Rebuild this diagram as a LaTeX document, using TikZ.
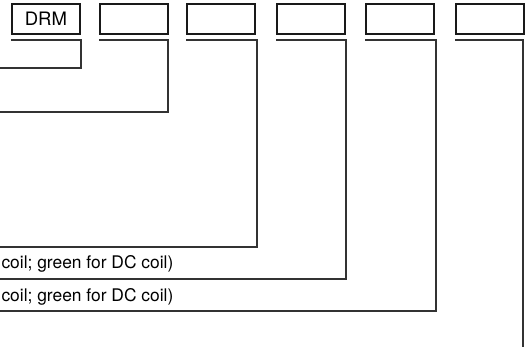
\documentclass[tikz,border=0pt]{standalone}
\usepackage{fontspec}
\setmainfont{TeX Gyre Heros}
\begin{document}
\begin{tikzpicture}[x=1pt,y=-1pt,
  codebox/.style={draw=black!90, line width=1.9pt, minimum width=68pt, minimum height=30pt, inner sep=0pt, font=\fontsize{18.5}{21}\selectfont, anchor=north west},
  bracket/.style={draw=black!80, line width=1.3pt},
  note/.style={font=\fontsize{17.4}{20}\selectfont, inner sep=0pt, anchor=base east}]
\useasboundingbox (0,0) rectangle (525,346);
\clip (0,0) rectangle (525,346);
\node[codebox] (b1) at (11,3) {\raisebox{-1pt}{DRM}};
\node[codebox] (b2) at (99,3) {};
\node[codebox] (b3) at (186,3) {};
\node[codebox] (b4) at (276,3) {};
\node[codebox] (b5) at (365,3) {};
\node[codebox] (b6) at (455,3) {};
\coordinate (e1) at (0,68);
\coordinate (e2) at (0,112);
\coordinate (e3) at (0,247);
\coordinate (e4) at (0,279);
\coordinate (e5) at (0,311);
\coordinate (e6) at (523,350);
\draw[bracket] (b1.south west |- 0,40) -| (81,68) -- (e1);
\draw[bracket] (b2.south west |- 0,40) -| (168,112) -- (e2);
\draw[bracket] (b3.south west |- 0,40) -| (257,247) -- (e3);
\draw[bracket] (b4.south west |- 0,40) -| (346,279) -- (e4);
\draw[bracket] (b5.south west |- 0,40) -| (436,311) -- (e5);
\draw[bracket] (b6.south west |- 0,40) -| (e6);
\node[note] (t1) at (173.5,268) {coil; green for DC coil)};
\node[note] (t2) at (173.5,301) {coil; green for DC coil)};
\end{tikzpicture}
\end{document}
